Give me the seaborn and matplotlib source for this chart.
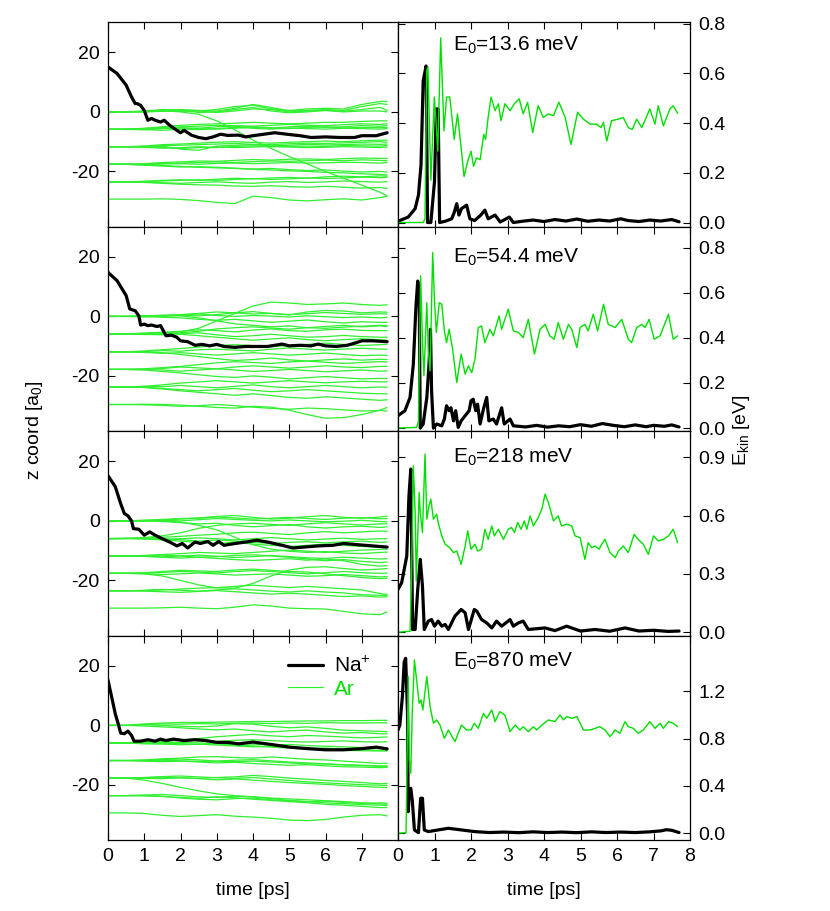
import matplotlib
matplotlib.use('Agg')
import matplotlib.pyplot as plt
import pandas as pd
import seaborn as sns

# ---------------- data ----------------
E0_LABELS = ['13.6', '54.4', '218', '870']

# time grid of the Ar z traces [ps]
AR_T = [0, 0.5, 1.0, 1.5, 2.0, 2.5, 3.0, 3.5, 4.0, 4.5, 5.0, 5.5, 6.0, 6.5, 7.0, 7.5, 7.7]

# --- panel 1 (E0 = 13.6 meV) ---
NA_Z_T_1 = [0, 0.25, 0.5, 0.65, 0.75, 0.8, 0.9, 1.0, 1.1, 1.2, 1.3, 1.45, 1.55, 1.7, 1.9, 2.0, 2.1,
            2.3, 2.5, 2.7, 2.9, 3.1, 3.3, 3.6, 3.8, 4.0, 4.3, 4.6, 5.0, 5.3, 5.6, 6.0, 6.4, 6.8, 7.0, 7.4, 7.7]
NA_Z_1 = [15.1, 12.9, 9.0, 5.0, 2.8, 2.8, 2.2, 0.5, -2.8, -2.2, -2.8, -3.4, -2.8, -4.5, -6.2, -7.0, -6.2,
          -7.8, -8.6, -9.0, -8.4, -7.5, -7.9, -7.8, -8.4, -8.0, -7.5, -7.0, -7.6, -8.0, -8.6, -8.4, -8.6, -8.6, -8.0, -8.0, -7.0]
AR_Z_1 = [
    [0, 0, 0, 0.2, 0.5, 0.3, 0.8, 1.8, 2.2, 1.0, 0.5, 1.0, 1.2, 1.0, 2.5, 3.5, 3.5],
    [0, 0, 0, 0.3, 0.8, 0.5, 0.3, 1.2, 2.5, 1.5, 0.3, 0.5, 0.8, 0.5, 1.8, 2.8, 2.5],
    [0, 0, 0.3, 0.8, 0.6, -0.2, 0, 0.8, 1.5, 0.3, -0.3, 0, 0.5, 0.2, 0.8, 1.5, 0.5],
    [0, 0, 0.2, 0.5, 0.2, 0.3, -0.2, 0.3, 1.0, 0.8, 0, 0.3, 0.5, 0, 0.3, 0.3, 0],
    [0, 0, 0.2, 0.4, 0, -0.8, -3.0, -6.0, -9.5, -12.3, -15.0, -17.5, -20.0, -22.3, -24.6, -27.0, -28.2],
    [-5.85, -5.8, -5.5, -5.0, -4.5, -4.2, -4.0, -3.8, -3.5, -3.8, -4.0, -3.8, -3.5, -3.5, -3.2, -3.0, -3.0],
    [-5.85, -5.8, -5.6, -5.2, -5.0, -4.8, -4.5, -4.6, -4.8, -4.5, -4.2, -4.5, -4.6, -4.3, -4.0, -4.2, -4.0],
    [-5.85, -5.9, -6.0, -5.6, -5.3, -5.5, -5.0, -4.8, -5.2, -5.5, -5.0, -4.8, -5.2, -5.0, -4.6, -4.8, -4.6],
    [-5.85, -5.8, -5.9, -6.2, -5.8, -5.5, -5.8, -5.5, -5.0, -5.3, -5.6, -5.2, -5.0, -5.4, -5.2, -5.3, -5.2],
    [-5.85, -5.9, -5.7, -5.5, -5.7, -6.0, -5.6, -5.2, -5.5, -5.8, -5.4, -5.6, -5.8, -5.5, -5.6, -5.8, -5.6],
    [-11.7, -11.7, -11.5, -11.0, -10.8, -10.5, -10.2, -10.0, -10.3, -10.5, -10.2, -10.0, -9.8, -10.0, -9.7, -9.5, -9.5],
    [-11.7, -11.7, -11.6, -11.3, -11.2, -11.0, -10.8, -10.6, -10.9, -11.0, -10.7, -10.5, -10.6, -10.4, -10.2, -10.0, -10.2],
    [-11.7, -11.7, -11.8, -11.5, -12.5, -12.9, -11.5, -11.2, -11.0, -11.4, -11.2, -10.9, -11.1, -11.0, -10.8, -10.9, -10.8],
    [-11.7, -11.7, -11.9, -12.2, -12.0, -11.7, -12.0, -11.6, -11.4, -11.7, -11.6, -11.5, -11.6, -11.3, -11.4, -11.5, -11.3],
    [-11.7, -11.7, -11.6, -11.9, -12.3, -12.0, -11.8, -12.0, -11.8, -11.6, -11.8, -12.0, -11.9, -11.7, -11.8, -12.0, -11.8],
    [-17.6, -17.6, -17.4, -17.0, -16.8, -16.5, -16.6, -16.3, -16.0, -16.2, -15.9, -15.8, -16.0, -15.7, -15.5, -15.6, -15.6],
    [-17.6, -17.6, -17.5, -17.3, -17.2, -17.0, -16.8, -17.0, -16.7, -16.5, -16.6, -16.4, -16.2, -16.4, -16.1, -16.3, -16.4],
    [-17.6, -17.6, -17.7, -17.5, -17.4, -17.6, -17.3, -17.2, -17.4, -17.2, -17.0, -17.2, -17.1, -16.9, -17.0, -17.2, -17.0],
    [-17.6, -17.6, -17.8, -18.0, -18.3, -18.6, -18.8, -19.0, -19.3, -19.5, -19.8, -20.0, -20.3, -20.5, -20.8, -21.0, -21.2],
    [-17.6, -17.6, -17.9, -18.2, -18.5, -18.4, -18.6, -18.9, -19.2, -19.0, -19.4, -19.7, -19.5, -19.9, -20.2, -20.0, -20.2],
    [-23.5, -23.5, -23.3, -23.0, -22.8, -23.0, -22.6, -22.3, -22.5, -22.2, -22.0, -22.3, -21.8, -21.6, -21.8, -21.5, -21.6],
    [-23.5, -23.5, -23.4, -23.2, -23.0, -22.8, -23.0, -22.7, -22.4, -22.7, -22.5, -22.2, -22.4, -22.2, -21.9, -22.1, -22.0],
    [-23.5, -23.5, -23.6, -23.8, -24.0, -23.7, -23.5, -23.8, -24.0, -23.6, -23.4, -23.7, -23.5, -23.2, -23.4, -23.6, -23.4],
    [-23.5, -23.5, -23.7, -24.0, -24.3, -24.5, -24.6, -24.9, -25.0, -24.8, -25.1, -25.3, -25.0, -25.3, -25.6, -25.4, -25.7],
    [-29.3, -29.3, -29.3, -29.2, -29.4, -29.8, -30.4, -30.8, -28.3, -28.8, -29.6, -29.9, -29.5, -29.2, -29.6, -28.8, -28.3],
]
NA_EK_T_1 = [0, 0.28, 0.47, 0.56, 0.63, 0.69, 0.77, 0.81, 0.9, 1.0, 1.05, 1.1, 1.14, 1.29, 1.47, 1.54, 1.61,
             1.67, 1.74, 1.88, 1.97, 2.1, 2.27, 2.38, 2.47, 2.66, 2.8, 3.05, 3.16, 3.4, 3.7, 4.0, 4.3, 4.6,
             4.9, 5.2, 5.5, 5.8, 6.1, 6.3, 6.6, 6.9, 7.2, 7.5, 7.7]
NA_EK_1 = [0.005, 0.022, 0.056, 0.11, 0.23, 0.57, 0.63, 0.0, 0.0, 0.165, 0.457, 0.457, 0.0, 0.005, 0.015, 0.04, 0.076,
           0.03, 0.056, 0.07, 0.015, 0.008, 0.03, 0.05, 0.015, 0.03, 0.002, 0.022, 0.0, 0.005, 0.01, 0.004, 0.012, 0.006,
           0.014, 0.005, 0.01, 0.006, 0.015, 0.008, 0.004, 0.01, 0.006, 0.012, 0.003]
AR_EK_T_1 = [0, 0.69, 0.74, 0.785, 0.82, 0.9, 0.995, 1.03, 1.09, 1.17, 1.26, 1.33, 1.42, 1.54, 1.63, 1.73, 1.81,
             1.91, 2.0, 2.07, 2.15, 2.25, 2.35, 2.4, 2.47, 2.55, 2.66, 2.75, 2.82, 2.93, 3.07, 3.19, 3.32, 3.43,
             3.55, 3.69, 3.84, 3.98, 4.12, 4.26, 4.41, 4.58, 4.74, 4.92, 5.08, 5.26, 5.44, 5.56, 5.63, 5.72,
             5.85, 6.04, 6.17, 6.31, 6.42, 6.54, 6.68, 6.9, 7.04, 7.13, 7.27, 7.45, 7.54, 7.66]
AR_EK_1 = [0, 0, 0.015, 0.61, 0.627, 0.17, 0.505, 0.437, 0.287, 0.743, 0.369, 0.505, 0.505, 0.335, 0.437, 0.30, 0.185,
           0.246, 0.287, 0.226, 0.26, 0.253, 0.355, 0.335, 0.423, 0.505, 0.45, 0.478, 0.41, 0.478, 0.45, 0.478, 0.498, 0.437,
           0.484, 0.362, 0.471, 0.423, 0.437, 0.43, 0.484, 0.423, 0.314, 0.444, 0.416, 0.396, 0.396, 0.382, 0.403, 0.328,
           0.41, 0.416, 0.423, 0.382, 0.375, 0.416, 0.382, 0.457, 0.396, 0.47, 0.389, 0.457, 0.47, 0.44]

# --- panel 2 (E0 = 54.4 meV) ---
NA_Z_T_2 = [0, 0.25, 0.5, 0.6, 0.75, 0.85, 0.9, 1.0, 1.1, 1.2, 1.35, 1.45, 1.6, 1.75, 1.9, 2.0, 2.2, 2.4,
            2.6, 2.8, 3.0, 3.2, 3.5, 3.8, 4.0, 4.4, 4.8, 5.0, 5.3, 5.6, 5.8, 6.0, 6.3, 6.6, 6.8, 7.0, 7.3, 7.7]
NA_Z_2 = [14.8, 12.0, 7.0, 2.5, 1.9, 0.2, -2.9, -2.6, -3.1, -2.9, -3.4, -3.1, -6.5, -6.3, -7.0, -8.2, -8.5, -9.7,
          -9.4, -9.9, -9.4, -10.1, -10.4, -10.1, -10.1, -10.1, -9.3, -9.9, -9.7, -9.9, -9.3, -9.9, -10.1, -9.7, -9.0, -8.2, -8.2, -8.5]
AR_Z_2 = [
    [0, 0, 0.1, 0.3, 0.2, -0.5, -1.5, -2.5, -3.0, -3.5, -3.2, -3.8, -4.0, -3.6, -3.3, -3.0, -3.1],
    [0, 0, 0.2, 0.4, 0.6, 1.0, 1.5, 1.2, 0.8, 1.0, 0.6, 0.9, 1.3, 1.0, 0.7, 0.9, 0.8],
    [0, 0, 0, 0.2, 0.5, 0.8, 0.3, 0, 0.3, 0.1, -0.2, 0.2, -0.1, -0.4, -0.2, -0.5, -0.3],
    [0, 0, -0.2, 0.0, 0.3, 0.2, 0.6, 1.2, 1.6, 1.0, 0.5, 1.5, 2.0, 1.8, 1.2, 1.5, 1.4],
    [0, 0, 0.1, -0.3, -0.5, -1.0, -1.3, -1.0, -1.5, -2.0, -1.6, -1.2, -1.8, -2.2, -1.8, -2.0, -2.0],
    [-5.95, -5.9, -5.8, -5.6, -5.2, -4.0, -1.5, 1.0, 3.5, 4.8, 4.5, 4.0, 4.2, 4.5, 4.0, 3.7, 3.9],
    [-5.95, -5.9, -5.6, -5.3, -5.0, -4.5, -4.8, -5.2, -4.6, -4.2, -4.8, -5.0, -4.5, -4.3, -4.7, -4.8, -4.8],
    [-5.95, -5.9, -6.0, -6.2, -5.8, -5.5, -6.2, -6.8, -6.5, -6.0, -6.5, -7.0, -6.8, -6.4, -6.8, -7.0, -7.0],
    [-5.95, -5.9, -5.7, -5.5, -6.0, -6.5, -7.0, -7.5, -8.0, -7.6, -7.2, -7.8, -8.2, -7.8, -7.5, -7.9, -8.0],
    [-5.95, -5.9, -6.1, -6.0, -5.5, -5.0, -4.2, -3.8, -3.5, -3.9, -4.3, -3.8, -3.4, -3.0, -3.5, -3.2, -3.4],
    [-11.9, -11.9, -11.6, -11.2, -10.8, -10.3, -9.8, -9.5, -9.8, -10.2, -9.8, -9.4, -9.0, -9.4, -9.8, -9.5, -9.4],
    [-11.9, -11.9, -12.1, -12.4, -12.2, -12.6, -13.0, -12.6, -12.2, -12.6, -13.0, -12.7, -12.3, -12.8, -13.2, -13.0, -13.1],
    [-11.9, -11.9, -11.8, -11.5, -11.7, -11.2, -11.0, -11.3, -11.6, -11.0, -10.6, -11.0, -11.3, -11.0, -10.7, -11.0, -11.0],
    [-11.9, -11.9, -12.0, -12.2, -12.8, -13.5, -14.2, -14.8, -14.5, -14.0, -14.6, -15.0, -14.6, -14.3, -14.7, -14.4, -14.5],
    [-17.8, -17.8, -17.6, -17.2, -16.8, -16.2, -15.6, -15.2, -15.5, -15.8, -15.3, -15.0, -15.4, -15.8, -15.5, -15.2, -15.3],
    [-17.8, -17.8, -17.9, -18.0, -18.4, -18.0, -17.6, -18.0, -18.5, -18.2, -17.8, -18.2, -18.6, -18.3, -18.0, -18.4, -18.3],
    [-17.8, -17.8, -18.0, -18.5, -19.0, -19.6, -20.2, -20.5, -20.0, -20.4, -21.0, -20.6, -20.2, -20.6, -21.0, -20.8, -20.9],
    [-17.8, -17.8, -17.7, -17.5, -17.0, -17.3, -17.6, -17.0, -16.6, -17.0, -17.4, -17.0, -16.6, -17.0, -17.2, -16.8, -16.8],
    [-23.7, -23.7, -23.5, -23.0, -22.4, -22.0, -21.6, -22.0, -22.4, -22.0, -21.6, -22.0, -22.3, -22.0, -21.8, -22.0, -22.0],
    [-23.7, -23.7, -23.8, -24.2, -24.6, -25.0, -24.6, -24.2, -24.8, -25.3, -25.0, -24.6, -25.0, -25.4, -25.8, -26.0, -26.0],
    [-23.7, -23.7, -23.9, -24.4, -25.0, -25.5, -26.0, -26.5, -26.0, -26.6, -27.2, -27.5, -27.0, -27.4, -27.8, -28.2, -28.0],
    [-23.7, -23.7, -23.5, -23.6, -23.2, -23.6, -24.0, -23.5, -23.0, -23.6, -24.0, -23.6, -23.2, -23.6, -24.0, -23.7, -23.8],
    [-29.6, -29.6, -29.5, -29.6, -29.8, -30.2, -30.6, -30.8, -30.2, -30.5, -31.5, -33.0, -34.2, -34.0, -33.0, -31.5, -30.6],
    [-29.6, -29.6, -29.7, -29.9, -30.2, -30.0, -29.6, -30.0, -30.5, -30.9, -31.2, -30.8, -31.0, -31.4, -31.8, -31.6, -31.8],
]
NA_EK_T_2 = [0, 0.19, 0.33, 0.42, 0.49, 0.54, 0.58, 0.61, 0.69, 0.79, 0.85, 0.89, 0.92, 0.97, 1.06, 1.2, 1.27,
             1.33, 1.4, 1.45, 1.52, 1.58, 1.65, 1.73, 1.84, 1.95, 2.0, 2.06, 2.13, 2.18, 2.25, 2.34, 2.43,
             2.49, 2.61, 2.7, 2.84, 2.91, 3.07, 3.16, 3.5, 3.8, 4.1, 4.4, 4.7, 5.0, 5.3, 5.6, 5.9, 6.2,
             6.5, 6.8, 7.0, 7.3, 7.5, 7.7]
NA_EK_2 = [0.055, 0.077, 0.136, 0.283, 0.534, 0.652, 0.608, 0.0, 0.018, 0.136, 0.283, 0.438, 0.165, 0.0, 0.018, 0.01, 0.04,
           0.099, 0.077, 0.09, 0.032, 0.077, 0.003, 0.032, 0.055, 0.077, 0.121, 0.128, 0.077, 0.106, 0.018, 0.084, 0.136,
           0.032, 0.04, 0.018, 0.09, 0.018, 0.04, 0.01, 0.005, 0.012, 0.004, 0.01, 0.006, 0.015, 0.008, 0.02, 0.012, 0.006,
           0.014, 0.006, 0.012, 0.008, 0.014, 0.005]
AR_EK_T_2 = [0, 0.51, 0.56, 0.62, 0.67, 0.71, 0.79, 0.83, 0.88, 0.95, 1.0, 1.05, 1.13, 1.2, 1.27, 1.33, 1.4,
             1.49, 1.61, 1.73, 1.84, 1.93, 2.02, 2.11, 2.2, 2.29, 2.38, 2.52, 2.61, 2.77, 2.84, 3.02, 3.16,
             3.3, 3.43, 3.57, 3.74, 3.89, 4.03, 4.16, 4.28, 4.39, 4.53, 4.67, 4.76, 4.9, 4.99, 5.12, 5.21,
             5.35, 5.47, 5.63, 5.76, 5.95, 6.13, 6.31, 6.4, 6.54, 6.68, 6.77, 6.88, 7.02, 7.18, 7.41, 7.54, 7.66]
AR_EK_2 = [0, 0.003, 0.03, 0.675, 0.387, 0.232, 0.556, 0.342, 0.254, 0.778, 0.564, 0.424, 0.556, 0.549, 0.431, 0.379, 0.438,
           0.357, 0.202, 0.328, 0.239, 0.276, 0.246, 0.306, 0.446, 0.453, 0.379, 0.438, 0.409, 0.497, 0.438, 0.527, 0.431,
           0.424, 0.401, 0.482, 0.328, 0.438, 0.46, 0.409, 0.394, 0.468, 0.394, 0.46, 0.438, 0.357, 0.446, 0.46, 0.431,
           0.505, 0.431, 0.549, 0.46, 0.446, 0.482, 0.394, 0.379, 0.446, 0.46, 0.446, 0.482, 0.394, 0.409, 0.505, 0.394, 0.409]

# --- panel 3 (E0 = 218 meV) ---
NA_Z_T_3 = [0, 0.2, 0.35, 0.45, 0.55, 0.65, 0.7, 0.85, 1.0, 1.15, 1.3, 1.5, 1.7, 1.9, 2.05, 2.2, 2.4, 2.55,
            2.75, 2.9, 3.05, 3.2, 3.5, 3.8, 4.1, 4.4, 4.8, 5.1, 5.4, 5.8, 6.2, 6.5, 6.9, 7.3, 7.7]
NA_Z_3 = [15.2, 11.5, 5.8, 2.5, 1.7, 0.0, -2.6, -2.8, -4.8, -3.7, -4.8, -6.0, -7.1, -8.4, -7.6, -9.1, -7.1, -7.6,
          -6.9, -8.2, -6.9, -8.2, -7.6, -7.1, -6.5, -7.1, -8.2, -9.1, -8.8, -8.4, -8.2, -7.6, -8.0, -8.4, -8.8]
AR_Z_3 = [
    [0, 0, 0.2, 0.5, 0.8, 1.0, 1.5, 1.8, 1.2, 0.6, 0.9, 1.4, 1.8, 1.2, 0.9, 1.3, 1.6],
    [0, 0, 0, 0.2, 0, 0.4, 0.8, 0.5, 0.2, 0.0, 0.3, 0.0, -0.3, -0.1, 0.2, -0.2, -0.3],
    [0, 0, -0.1, 0.1, -0.4, -1.5, -3.0, -5.5, -8.0, -9.5, -10.2, -10.6, -10.3, -10.8, -11.0, -10.6, -10.5],
    [0, 0, 0.1, -0.2, -0.6, -1.0, -0.8, -1.5, -2.0, -1.6, -1.2, -2.0, -2.4, -2.0, -1.8, -2.2, -2.0],
    [0, 0, 0.2, 0.3, 0.6, 0.9, 1.3, 1.0, 0.6, 0.9, 1.2, 0.8, 0.5, 0.9, 1.1, 0.7, 0.8],
    [-5.95, -5.9, -5.6, -5.0, -4.0, -2.5, -1.5, -1.0, -0.8, -1.2, -1.5, -1.0, -0.6, -1.0, -1.4, -1.0, -1.0],
    [-5.95, -5.9, -5.8, -5.5, -5.2, -4.8, -4.5, -4.0, -3.8, -4.2, -4.6, -4.0, -3.6, -4.0, -3.7, -3.4, -3.5],
    [-5.95, -5.9, -6.0, -6.2, -6.0, -5.7, -6.0, -6.4, -6.0, -5.6, -6.0, -6.4, -6.1, -5.8, -6.2, -6.0, -6.0],
    [-5.95, -5.9, -6.1, -6.4, -6.8, -7.2, -7.6, -7.2, -7.8, -8.2, -8.6, -8.2, -7.8, -8.2, -8.6, -8.8, -8.7],
    [-5.95, -5.9, -5.8, -6.0, -6.3, -6.8, -6.4, -6.8, -7.2, -7.6, -7.2, -7.0, -7.4, -7.0, -6.8, -7.2, -7.1],
    [-11.8, -11.8, -11.6, -11.3, -11.0, -10.6, -10.8, -11.0, -10.6, -10.2, -9.8, -10.2, -10.6, -10.2, -9.8, -9.6, -9.5],
    [-11.8, -11.8, -11.9, -12.1, -11.8, -11.5, -11.9, -12.3, -12.0, -11.6, -12.0, -12.4, -12.6, -12.2, -12.5, -12.8, -12.7],
    [-11.8, -11.8, -11.7, -11.5, -11.8, -12.2, -12.0, -11.6, -11.4, -11.8, -12.2, -12.8, -13.4, -13.0, -13.6, -14.0, -13.8],
    [-11.8, -11.8, -11.9, -12.2, -12.5, -12.2, -12.6, -13.0, -13.3, -13.0, -12.7, -13.2, -12.8, -13.4, -14.6, -15.2, -15.0],
    [-17.6, -17.6, -17.8, -18.5, -20.0, -21.5, -22.5, -22.6, -21.0, -18.5, -16.5, -15.6, -15.4, -16.0, -16.5, -16.2, -16.0],
    [-17.6, -17.6, -17.5, -17.3, -17.0, -17.2, -17.5, -17.0, -16.7, -17.0, -17.4, -17.8, -17.4, -17.0, -17.4, -17.6, -17.5],
    [-17.6, -17.6, -17.7, -18.0, -17.8, -17.5, -17.8, -18.2, -18.0, -17.8, -18.2, -18.6, -18.4, -18.0, -18.4, -18.8, -18.7],
    [-17.6, -17.6, -17.4, -17.0, -16.6, -16.8, -17.0, -16.5, -16.2, -16.6, -17.0, -17.2, -17.8, -18.4, -19.0, -19.4, -19.3],
    [-23.5, -23.5, -23.4, -23.2, -22.9, -22.6, -22.4, -22.0, -21.6, -22.0, -22.4, -22.0, -22.4, -22.8, -23.2, -24.4, -24.7],
    [-23.5, -23.5, -23.6, -23.8, -24.0, -23.7, -23.4, -23.8, -24.2, -24.6, -24.3, -24.6, -25.0, -25.4, -25.2, -25.6, -25.5],
    [-23.5, -23.5, -23.3, -23.0, -23.3, -23.6, -23.2, -22.8, -23.2, -23.6, -23.9, -23.5, -23.9, -24.2, -24.8, -25.0, -25.1],
    [-29.3, -29.3, -29.3, -29.2, -29.0, -29.3, -29.5, -29.0, -28.2, -28.6, -29.3, -29.5, -29.6, -30.4, -31.2, -31.5, -30.6],
]
NA_EK_T_3 = [0, 0.1, 0.24, 0.3, 0.35, 0.37, 0.4, 0.47, 0.54, 0.61, 0.67, 0.72, 0.83, 0.92, 1.0, 1.1, 1.2,
             1.29, 1.38, 1.56, 1.73, 1.84, 1.93, 2.09, 2.16, 2.29, 2.43, 2.57, 2.7, 2.84, 3.07, 3.16, 3.3,
             3.43, 3.57, 4.03, 4.3, 4.62, 5.0, 5.4, 5.8, 6.22, 6.6, 7.0, 7.4, 7.7]
NA_EK_3 = [0.22, 0.255, 0.392, 0.702, 0.84, 0.53, 0.014, 0.014, 0.22, 0.375, 0.238, 0.014, 0.057, 0.065, 0.031, 0.057, 0.031,
           0.04, 0.014, 0.083, 0.117, 0.1, 0.014, 0.117, 0.108, 0.065, 0.048, 0.022, 0.057, 0.031, 0.065, 0.031, 0.048,
           0.057, 0.014, 0.022, 0.008, 0.031, 0.006, 0.014, 0.005, 0.022, 0.006, 0.01, 0.004, 0.006]
AR_EK_T_3 = [0, 0.33, 0.37, 0.42, 0.47, 0.5, 0.58, 0.61, 0.67, 0.74, 0.79, 0.85, 0.9, 0.97, 1.06, 1.1, 1.2,
             1.29, 1.42, 1.52, 1.61, 1.73, 1.84, 1.91, 2.0, 2.11, 2.18, 2.29, 2.38, 2.47, 2.57, 2.64, 2.75,
             2.89, 3.02, 3.11, 3.19, 3.28, 3.37, 3.46, 3.53, 3.62, 3.71, 3.84, 3.94, 4.03, 4.12, 4.26, 4.39,
             4.48, 4.62, 4.76, 4.85, 4.99, 5.12, 5.21, 5.31, 5.4, 5.51, 5.58, 5.67, 5.81, 5.95, 6.04, 6.17,
             6.31, 6.47, 6.58, 6.72, 6.86, 7.0, 7.13, 7.27, 7.41, 7.54, 7.66]
AR_EK_3 = [0, 0.005, 0.272, 0.857, 0.616, 0.263, 0.72, 0.616, 0.513, 0.917, 0.582, 0.651, 0.685, 0.582, 0.608, 0.565, 0.496,
           0.453, 0.435, 0.41, 0.418, 0.349, 0.444, 0.522, 0.427, 0.453, 0.418, 0.427, 0.53, 0.478, 0.547, 0.496, 0.53,
           0.478, 0.53, 0.539, 0.513, 0.565, 0.53, 0.573, 0.53, 0.599, 0.547, 0.59, 0.633, 0.711, 0.668, 0.573, 0.599,
           0.547, 0.556, 0.547, 0.496, 0.487, 0.375, 0.461, 0.435, 0.444, 0.427, 0.453, 0.478, 0.41, 0.384, 0.418, 0.444,
           0.41, 0.504, 0.478, 0.453, 0.401, 0.496, 0.47, 0.478, 0.496, 0.53, 0.461]

# --- panel 4 (E0 = 870 meV) ---
NA_Z_T_4 = [0, 0.1, 0.2, 0.28, 0.35, 0.45, 0.55, 0.65, 0.72, 0.9, 1.1, 1.3, 1.45, 1.6, 1.8, 2.1, 2.4, 2.7,
            3.0, 3.3, 3.6, 4.0, 4.5, 5.0, 5.5, 6.0, 6.5, 7.0, 7.4, 7.7]
NA_Z_4 = [15.2, 9.6, 3.9, 0.6, -2.6, -2.8, -1.9, -3.4, -5.3, -5.3, -4.8, -5.3, -4.6, -5.1, -4.6, -5.1, -4.8, -5.1,
          -5.7, -5.7, -6.2, -5.6, -6.4, -7.3, -7.8, -8.2, -8.2, -7.8, -7.3, -7.9]
AR_Z_4 = [
    [0, 0, 0.5, 0.8, 1.0, 1.0, 1.1, 1.2, 1.3, 1.3, 1.4, 1.5, 1.5, 1.6, 1.6, 1.7, 1.7],
    [0, 0, 0.3, 0.5, 0.4, 0.6, 0.5, 0.7, 0.8, 0.6, 0.8, 0.7, 0.9, 0.8, 0.8, 0.9, 0.8],
    [0, 0, 0.2, 0, -0.3, -0.5, -0.2, 0.6, 0.4, -0.3, -0.8, -0.5, -1.0, -1.6, -1.8, -2.0, -2.1],
    [0, 0, -0.2, -0.5, -0.8, -1.2, -1.5, -1.2, -1.8, -2.2, -1.8, -1.6, -2.2, -2.6, -2.4, -2.8, -2.8],
    [-5.9, -5.9, -5.5, -5.2, -5.0, -4.4, -3.8, -3.4, -3.0, -3.5, -3.8, -3.4, -3.6, -3.9, -4.2, -4.0, -3.9],
    [-5.9, -5.9, -5.6, -5.4, -5.0, -5.2, -5.4, -5.0, -4.8, -5.1, -5.4, -5.6, -5.4, -5.2, -5.5, -5.6, -5.5],
    [-5.9, -5.9, -6.0, -5.8, -5.7, -5.9, -6.1, -6.0, -6.3, -6.6, -6.4, -6.8, -7.0, -7.2, -7.4, -7.6, -7.5],
    [-5.9, -5.9, -6.2, -6.3, -6.5, -6.3, -6.6, -6.9, -7.2, -7.0, -7.4, -7.8, -7.6, -8.0, -8.2, -8.4, -8.3],
    [-5.9, -5.9, -5.8, -6.0, -6.1, -6.4, -6.2, -6.6, -6.9, -7.3, -7.6, -7.9, -8.2, -8.4, -8.5, -8.6, -8.6],
    [-11.8, -11.8, -11.6, -11.2, -11.0, -10.6, -10.5, -10.8, -11.0, -10.6, -11.0, -11.4, -11.6, -12.0, -12.4, -12.8, -12.7],
    [-11.8, -11.8, -11.7, -11.5, -11.3, -11.6, -12.0, -11.7, -11.5, -11.9, -12.3, -12.6, -12.9, -13.2, -13.4, -13.6, -13.6],
    [-11.8, -11.8, -12.0, -12.2, -12.0, -12.3, -12.6, -12.4, -12.8, -13.1, -13.4, -13.2, -13.6, -13.9, -14.0, -14.2, -14.1],
    [-11.8, -11.8, -11.9, -11.7, -11.9, -12.1, -12.0, -12.2, -12.0, -12.3, -12.6, -12.9, -13.0, -13.3, -13.5, -13.8, -13.8],
    [-17.7, -17.7, -18.4, -19.5, -20.8, -22.0, -23.0, -23.6, -24.0, -24.4, -24.7, -25.0, -25.3, -25.6, -26.0, -26.4, -26.5],
    [-17.7, -17.7, -17.5, -17.2, -17.0, -17.3, -17.6, -17.8, -17.5, -18.0, -18.5, -19.0, -19.3, -19.6, -19.9, -20.1, -20.2],
    [-17.7, -17.7, -17.8, -17.9, -17.6, -17.9, -18.3, -18.0, -18.4, -18.8, -19.2, -19.5, -19.8, -20.2, -20.5, -20.8, -20.9],
    [-17.7, -17.7, -17.6, -17.4, -17.6, -17.8, -17.5, -17.3, -16.8, -17.2, -17.7, -18.1, -18.5, -18.8, -19.2, -19.6, -19.5],
    [-23.6, -23.6, -23.4, -23.2, -23.6, -24.0, -24.2, -23.8, -24.0, -24.6, -25.2, -25.6, -26.0, -26.3, -26.6, -26.8, -26.9],
    [-23.6, -23.6, -23.7, -23.9, -24.2, -24.5, -24.0, -24.3, -24.8, -25.2, -25.6, -26.0, -26.5, -26.8, -27.2, -27.6, -27.6],
    [-23.6, -23.6, -23.5, -23.8, -24.4, -24.8, -25.0, -24.6, -24.4, -25.0, -25.3, -25.7, -25.4, -25.9, -26.2, -26.0, -26.1],
    [-29.4, -29.4, -29.6, -30.2, -30.6, -30.3, -30.0, -30.5, -30.8, -31.2, -31.8, -32.0, -31.6, -30.8, -30.2, -30.0, -30.4],
]
NA_EK_T_4 = [0, 0.05, 0.12, 0.17, 0.21, 0.26, 0.28, 0.31, 0.35, 0.39, 0.45, 0.56, 0.62, 0.67, 0.72, 0.83, 1.1,
             1.38, 1.74, 2.1, 2.5, 2.9, 3.3, 3.7, 4.1, 4.5, 4.9, 5.3, 5.7, 6.1, 6.5, 6.9, 7.2, 7.35, 7.5, 7.7]
NA_EK_4 = [0.873, 0.915, 1.155, 1.45, 1.479, 1.014, 0.183, 0.352, 0.38, 0.282, 0.028, 0.005, 0.296, 0.296, 0.028, 0.014, 0.028,
           0.042, 0.028, 0.014, 0.006, 0.01, 0.005, 0.012, 0.006, 0.01, 0.005, 0.012, 0.006, 0.01, 0.006, 0.012, 0.02, 0.03, 0.025, 0.006]
AR_EK_T_4 = [0, 0.22, 0.26, 0.28, 0.31, 0.35, 0.39, 0.45, 0.51, 0.58, 0.63, 0.68, 0.79, 0.88, 0.97, 1.06, 1.15,
             1.27, 1.38, 1.56, 1.74, 1.88, 2.0, 2.09, 2.2, 2.34, 2.43, 2.57, 2.66, 2.79, 2.93, 3.07, 3.21,
             3.34, 3.43, 3.57, 3.71, 3.8, 3.94, 4.12, 4.3, 4.44, 4.53, 4.62, 4.76, 4.9, 5.08, 5.26, 5.4,
             5.53, 5.67, 5.81, 5.95, 6.08, 6.22, 6.31, 6.45, 6.58, 6.72, 6.9, 7.04, 7.18, 7.27, 7.41, 7.54, 7.66]
AR_EK_4 = [0, 0.005, 0.873, 1.324, 0.62, 0.507, 1.014, 1.465, 1.296, 1.099, 1.127, 1.042, 1.324, 1.07, 0.93, 0.958, 0.915,
           0.803, 0.873, 0.775, 0.915, 0.873, 0.873, 0.93, 0.887, 1.014, 0.972, 1.042, 0.944, 1.028, 1.0, 0.859, 0.915,
           0.873, 0.901, 0.859, 0.901, 0.873, 0.915, 0.958, 0.944, 1.0, 0.958, 0.986, 0.972, 0.986, 0.873, 0.873, 0.887,
           0.901, 0.873, 0.817, 0.873, 0.845, 0.944, 0.901, 0.887, 0.845, 0.873, 0.944, 0.887, 0.93, 0.887, 0.944, 0.93, 0.901]

# right-axis ranges and ticks per row
EK_LIMS = [(-0.016, 0.807), (-0.013, 0.894), (-0.017, 1.036), (-0.057, 1.672)]
EK_TICKS = [[0, 0.2, 0.4, 0.6, 0.8], [0, 0.2, 0.4, 0.6, 0.8], [0, 0.3, 0.6, 0.9], [0, 0.4, 0.8, 1.2]]

PANELS = [
    (NA_Z_T_1, NA_Z_1, AR_Z_1, NA_EK_T_1, NA_EK_1, AR_EK_T_1, AR_EK_1),
    (NA_Z_T_2, NA_Z_2, AR_Z_2, NA_EK_T_2, NA_EK_2, AR_EK_T_2, AR_EK_2),
    (NA_Z_T_3, NA_Z_3, AR_Z_3, NA_EK_T_3, NA_EK_3, AR_EK_T_3, AR_EK_3),
    (NA_Z_T_4, NA_Z_4, AR_Z_4, NA_EK_T_4, NA_EK_4, AR_EK_T_4, AR_EK_4),
]

# ---------------- styling ----------------
GREEN = '#00e000'
GREEN_THIN = '#30f030'
TEXT_Y = [0.885, 0.85, 0.873, 0.873]

sns.set_style('ticks')
plt.rcParams['font.family'] = ['Liberation Sans', 'DejaVu Sans']
plt.rcParams['mathtext.fontset'] = 'custom'
plt.rcParams['mathtext.rm'] = 'Liberation Sans'
plt.rcParams['mathtext.it'] = 'Liberation Sans:italic'
plt.rcParams['font.size'] = 14
plt.rcParams['axes.unicode_minus'] = False
for key in ['text.color', 'axes.labelcolor', 'xtick.color', 'ytick.color', 'axes.edgecolor']:
    plt.rcParams[key] = 'black'


def ar_frame(lines):
    rows = []
    for i, zs in enumerate(lines):
        for t, z in zip(AR_T, zs):
            rows.append({'atom': i, 't': t, 'z': z})
    return pd.DataFrame(rows)


def style_axis(ax):
    for s in ax.spines.values():
        s.set_linewidth(0.9)
        s.set_color('black')
    ax.tick_params(direction='in', top=True, bottom=True, left=True, right=True,
                   length=5, width=0.8, labelsize=14, pad=6, colors='black')
    ax.set_xlim(0, 8)
    ax.set_xlabel('')
    ax.set_ylabel('')


fig = plt.figure(figsize=(8.3, 9.11), dpi=100)
x_left, x_right, w_col = 108 / 830, 398 / 830, 292 / 830
row_h = 204.5 / 911
top = 1 - 22 / 911

for i, (nzt, nz, arz, nekt, nek, arekt, arek) in enumerate(PANELS):
    bottom = top - (i + 1) * row_h
    axl = fig.add_axes([x_left, bottom, w_col - 2 / 830, row_h])
    axr = fig.add_axes([x_right, bottom, w_col, row_h])

    # left: z coordinates, one hue per Ar atom but all drawn in the same green
    ar_df = ar_frame(arz)
    sns.lineplot(data=ar_df, x='t', y='z', hue='atom', estimator=None,
                 palette=[GREEN_THIN] * len(arz), lw=0.9, ax=axl, legend=False)
    sns.lineplot(x=nzt, y=nz, estimator=None, color='black', lw=2.3, ax=axl)
    style_axis(axl)
    axl.set_ylim(-38.5, 30.2)
    axl.set_yticks([-20, 0, 20])
    axl.set_xticks(range(0, 8))

    # right: kinetic energies
    sns.lineplot(x=nekt, y=nek, estimator=None, color='black', lw=2.3, ax=axr)
    sns.lineplot(x=arekt, y=arek, estimator=None, color=GREEN, lw=1.0, ax=axr)
    style_axis(axr)
    axr.set_ylim(*EK_LIMS[i])
    axr.set_yticks(EK_TICKS[i])
    axr.set_yticklabels([f'{v:.1f}' for v in EK_TICKS[i]])
    axr.tick_params(labelleft=False, labelright=True)
    axr.set_xticks(range(0, 9))
    axr.text(0.19, TEXT_Y[i], f'E$_0$={E0_LABELS[i]} meV', transform=axr.transAxes,
             fontsize=15, ha='left', va='center')

    if i < 3:
        axl.tick_params(labelbottom=False)
        axr.tick_params(labelbottom=False)
    else:
        axl.set_xlabel('time [ps]', fontsize=14, labelpad=12)
        axr.set_xlabel('time [ps]', fontsize=14, labelpad=12)
        h1, = axl.plot([], [], color='black', lw=2.3, label='Na$^{+}$')
        h2, = axl.plot([], [], color=GREEN_THIN, lw=0.9, label='Ar')
        axl.legend(handles=[h1, h2], loc='upper right', bbox_to_anchor=(0.97, 0.99),
                   frameon=False, fontsize=15, handlelength=1.7, handletextpad=0.5,
                   labelspacing=0.15, labelcolor=['black', GREEN])

fig.text(0.042, 0.528, 'z coord [a$_0$]', rotation=90, ha='center', va='center', fontsize=14)
fig.text(0.893, 0.528, 'E$_{\\rm kin}$ [eV]', rotation=90, ha='center', va='center', fontsize=14)

fig.savefig('out.png', dpi=100)
plt.close(fig)
